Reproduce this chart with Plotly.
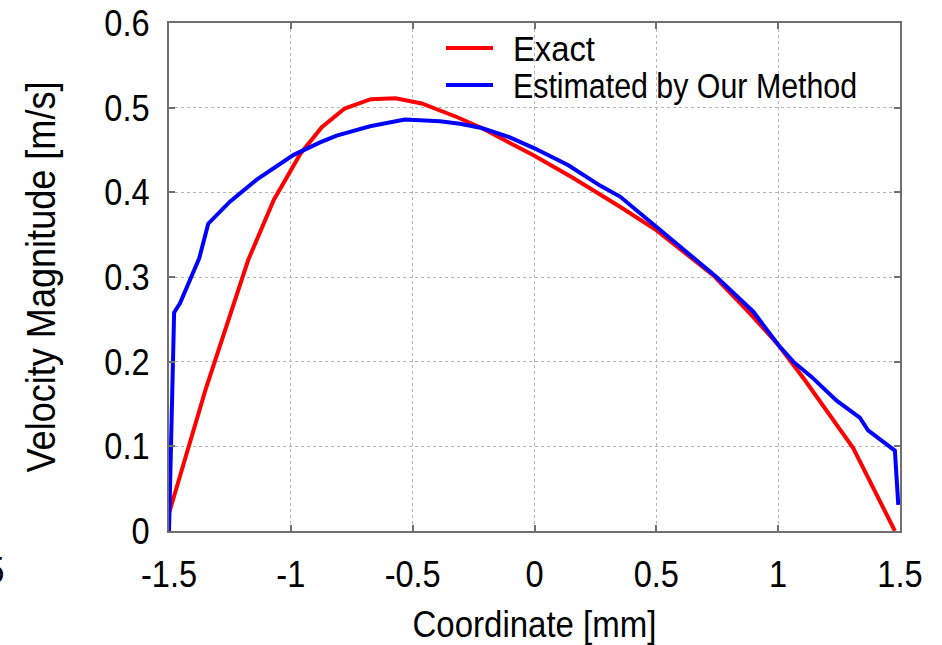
import plotly.graph_objects as go

# Exact velocity profile across the channel
exact_x = [-1.5, -1.35, -1.175, -1.07, -0.96, -0.873, -0.779, -0.672, -0.570, -0.463,
           -0.319, -0.217, -0.006, 0.152, 0.351, 0.501, 0.734, 0.884, 1.0, 1.11,
           1.308, 1.479]
exact_y = [0.021, 0.167, 0.320, 0.391, 0.446, 0.477, 0.499, 0.510, 0.511, 0.505,
           0.489, 0.476, 0.444, 0.418, 0.383, 0.355, 0.302, 0.257, 0.220, 0.178,
           0.098, 0.0]

# Velocity profile estimated by our method
est_x = [-1.5, -1.479, -1.455, -1.376, -1.339, -1.25, -1.14, -0.99, -0.88, -0.812,
         -0.675, -0.532, -0.388, -0.306, -0.217, -0.101, 0.0, 0.139, 0.269, 0.351,
         0.501, 0.747, 0.898, 1.0, 1.062, 1.137, 1.24, 1.335, 1.369, 1.417,
         1.479, 1.493]
est_y = [0.0, 0.258, 0.269, 0.322, 0.363, 0.389, 0.415, 0.444, 0.459, 0.467,
         0.478, 0.486, 0.484, 0.481, 0.476, 0.465, 0.452, 0.432, 0.408, 0.395,
         0.359, 0.300, 0.259, 0.220, 0.200, 0.182, 0.154, 0.134, 0.119, 0.108,
         0.095, 0.031]

x_ticks = [-1.5, -1, -0.5, 0, 0.5, 1, 1.5]
x_tick_text = ["-1.5", "-1", "-0.5", "0", "0.5", "1", "1.5"]
y_ticks = [0, 0.1, 0.2, 0.3, 0.4, 0.5, 0.6]
y_tick_text = ["0", "0.1", "0.2", "0.3", "0.4", "0.5", "0.6"]

FONT = "Liberation Sans Narrow, Arial Narrow, Liberation Sans, Arial, sans-serif"

# plot area in pixels, used to place paper-referenced items
L, R, T, B = 169, 42, 23, 114
W, H = 942, 645
PW, PH = W - L - R, H - T - B


def px_x(px):
    return (px - L) / PW


def px_y(py):
    return (H - B - py) / PH


fig = go.Figure()
fig.add_trace(go.Scatter(x=exact_x, y=exact_y, mode="lines", name="Exact",
                         line=dict(color="#ff0000", width=4), legend="legend"))
fig.add_trace(go.Scatter(x=est_x, y=est_y, mode="lines", name="Estimated by Our Method",
                         line=dict(color="#0000ff", width=4), legend="legend2"))

axis_common = dict(
    showline=True, linecolor="#707070", linewidth=2, mirror="allticks",
    ticks="inside", ticklen=6, tickwidth=2, tickcolor="#707070",
    showgrid=True, gridcolor="#b4b4b4", gridwidth=1, griddash="dot",
    zeroline=False, automargin=False,
    tickfont=dict(family=FONT, size=37, color="black"),
)

legend_common = dict(xanchor="left", yanchor="middle", bgcolor="rgba(0,0,0,0)",
                     borderwidth=0, itemwidth=62,
                     font=dict(family=FONT, size=34.5, color="black"))

fig.update_layout(
    width=W, height=H,
    margin=dict(l=L, r=R, t=T, b=B),
    paper_bgcolor="white", plot_bgcolor="white",
    font=dict(family=FONT, color="black"),
    showlegend=True,
    legend=dict(x=px_x(441), y=px_y(48), **legend_common),
    legend2=dict(x=px_x(441), y=px_y(85), **legend_common),
    xaxis=dict(range=[-1.5, 1.5], tickvals=x_ticks, ticktext=x_tick_text,
               ticklabelstandoff=10,
               title=dict(text="Coordinate [mm]", font=dict(family=FONT, size=37.5),
                          standoff=19),
               **axis_common),
    yaxis=dict(range=[0, 0.6], tickvals=y_ticks, ticktext=y_tick_text,
               ticklabelstandoff=10,
               title=dict(text="Velocity Magnitude [m/s]", font=dict(family=FONT, size=41),
                          standoff=30),
               **axis_common),
    # white panel behind the legend entries (hides the grid there)
    shapes=[dict(type="rect", xref="paper", yref="paper", layer="between",
                 x0=px_x(430), x1=px_x(895), y0=px_y(105), y1=px_y(27),
                 fillcolor="white", line=dict(width=0))],
    annotations=[dict(text="1.5", xref="paper", yref="paper", x=px_x(9),
                      y=px_y(570), xanchor="right", yanchor="middle", showarrow=False,
                      font=dict(family=FONT, size=37, color="black"))],
)

# Lengthen the legend samples, then condense all text horizontally
# (narrow sans look), scaling each label about its anchor point.
SQUEEZE_JS = """
var gd = document.getElementById('{plot_id}');
gd.querySelectorAll('.legendlines path').forEach(function (p) {
  p.setAttribute('d', 'M5,0h47');
});
gd.querySelectorAll('text').forEach(function (t) {
  if (t.getAttribute('data-squeezed')) { return; }
  var ratio = t.classList.contains('legendtext') ? 0.95 : 0.88;
  var x = parseFloat(t.getAttribute('x')) || 0;
  var tr = t.getAttribute('transform') || '';
  t.setAttribute('transform', tr + ' translate(' + x + ',0) scale(' + ratio + ',1) translate(' + (-x) + ',0)');
  t.setAttribute('data-squeezed', '1');
});
"""

fig.write_html("out.html", post_script=SQUEEZE_JS)
